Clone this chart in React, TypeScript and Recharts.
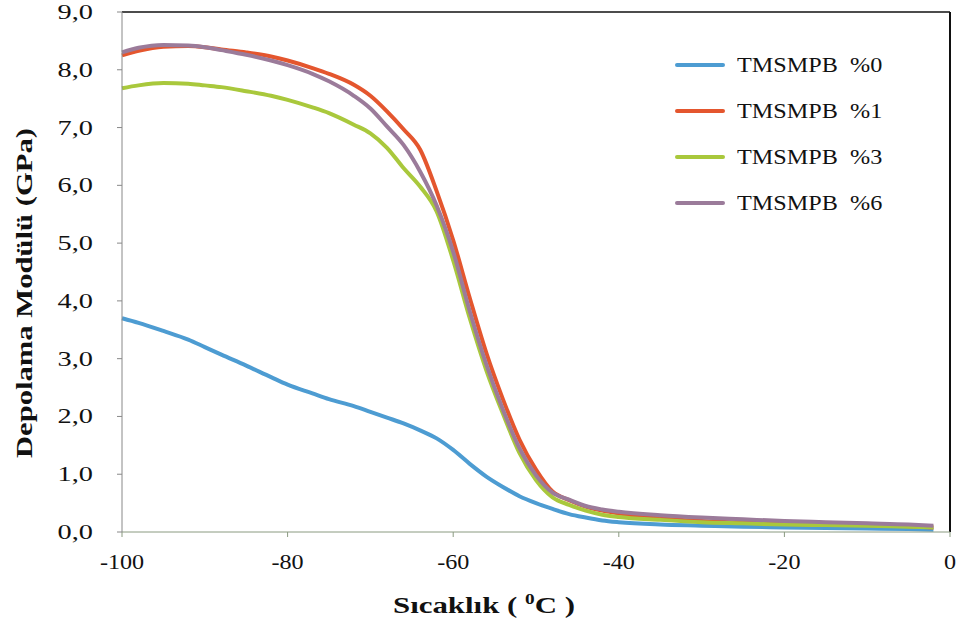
import { LineChart, Line, XAxis, YAxis, ReferenceLine } from "recharts";

// Sıcaklık (°C)
const sicaklik = [-100, -98, -95, -92, -90, -88, -85, -82, -80, -77, -75, -72, -70, -68, -66, -64, -62, -60, -58, -56, -54, -52, -50, -48, -46, -44, -42, -40, -35, -30, -25, -20, -15, -10, -5, -2];

// Depolama modülü (GPa)
const tmsmpb0 = [3.70, 3.62, 3.48, 3.33, 3.20, 3.07, 2.88, 2.68, 2.55, 2.40, 2.30, 2.18, 2.08, 1.98, 1.88, 1.76, 1.62, 1.42, 1.18, 0.96, 0.78, 0.62, 0.50, 0.40, 0.31, 0.25, 0.20, 0.17, 0.13, 0.11, 0.09, 0.08, 0.07, 0.06, 0.05, 0.04];
const tmsmpb1 = [8.25, 8.33, 8.40, 8.41, 8.39, 8.35, 8.30, 8.23, 8.16, 8.03, 7.93, 7.74, 7.55, 7.28, 6.97, 6.62, 5.90, 5.05, 4.05, 3.10, 2.30, 1.60, 1.08, 0.70, 0.55, 0.44, 0.37, 0.32, 0.24, 0.19, 0.16, 0.14, 0.13, 0.12, 0.10, 0.08];
const tmsmpb3 = [7.68, 7.73, 7.77, 7.76, 7.73, 7.70, 7.63, 7.55, 7.48, 7.35, 7.25, 7.05, 6.90, 6.65, 6.30, 5.98, 5.55, 4.70, 3.70, 2.80, 2.05, 1.37, 0.90, 0.60, 0.47, 0.37, 0.30, 0.26, 0.21, 0.17, 0.15, 0.13, 0.12, 0.11, 0.09, 0.08];
const tmsmpb6 = [8.30, 8.38, 8.43, 8.42, 8.39, 8.34, 8.26, 8.16, 8.08, 7.93, 7.80, 7.55, 7.33, 7.02, 6.70, 6.24, 5.65, 4.85, 3.82, 2.90, 2.12, 1.45, 0.98, 0.68, 0.56, 0.45, 0.39, 0.35, 0.29, 0.25, 0.22, 0.19, 0.17, 0.15, 0.13, 0.11];

const xTicks = [-100, -80, -60, -40, -20, 0];
const yTicks = [0, 1, 2, 3, 4, 5, 6, 7, 8, 9];

const seriler = [
    { key: "s0", name: "TMSMPB  %0", color: "#4d9cd2" },
    { key: "s1", name: "TMSMPB  %1", color: "#e4562e" },
    { key: "s3", name: "TMSMPB  %3", color: "#a9c83c" },
    { key: "s6", name: "TMSMPB  %6", color: "#9b7b9a" },
];

const data = sicaklik.map((t, i) => ({
    t,
    s0: tmsmpb0[i],
    s1: tmsmpb1[i],
    s3: tmsmpb3[i],
    s6: tmsmpb6[i],
}));

const FONT = "'Liberation Serif', 'Times New Roman', serif";

// taranmış görüntüdeki yazılar yatayda biraz geniş
function XTick({ x, y, payload }: any) {
    return (
        <g transform={`translate(${x},${y + 30}) scale(1.15,1)`}>
            <text x={0} y={0} textAnchor="middle" fontFamily={FONT} fontSize={21} fill="#111">
                {payload.value}
            </text>
        </g>
    );
}

function YTick({ x, y, payload }: any) {
    return (
        <g transform={`translate(${x - 22},${y + 7}) scale(1.35,1)`}>
            <text x={0} y={0} textAnchor="end" fontFamily={FONT} fontSize={21} fill="#111">
                {payload.value.toFixed(1).replace(".", ",")}
            </text>
        </g>
    );
}

// lejant grafiğin üstünde ayrı bir katman olarak
function Lejant() {
    return (
        <div style={{ position: "absolute", left: 675, top: 42, fontFamily: FONT }}>
            {seriler.map(s => (
                <div key={s.key} style={{ display: "flex", alignItems: "center", height: 46 }}>
                    <div style={{ width: 50, height: 4, borderRadius: 2, background: s.color, marginRight: 12 }} />
                    <span style={{ fontSize: 22, color: "#111", whiteSpace: "pre", display: "inline-block", transform: "scaleX(1.1)", transformOrigin: "left center" }}>
                        {s.name}
                    </span>
                </div>
            ))}
        </div>
    );
}

export default function App() {
    return (
        <div style={{ position: "absolute", left: 0, top: 0, width: 957, height: 623, background: "#fff" }}>
            <LineChart width={957} height={623} data={data} margin={{ top: 12, right: 7, bottom: 31, left: 0 }}>
                <XAxis
                    dataKey="t"
                    type="number"
                    domain={[-100, 0]}
                    ticks={xTicks}
                    tickSize={5}
                    height={60}
                    stroke="#8a9a80"
                    tick={<XTick />}
                />
                <YAxis
                    type="number"
                    domain={[0, 9]}
                    ticks={yTicks}
                    width={122}
                    tickSize={5}
                    stroke="#888"
                    tick={<YTick />}
                />
                <ReferenceLine y={9} stroke="#111" strokeWidth={1.5} />
                <ReferenceLine x={0} stroke="#111" strokeWidth={2} />
                {seriler.map(s => (
                    <Line
                        key={s.key}
                        type="monotone"
                        dataKey={s.key}
                        name={s.name}
                        stroke={s.color}
                        strokeWidth={4}
                        dot={false}
                        isAnimationActive={false}
                    />
                ))}
            </LineChart>
            <Lejant />
            <div style={{ position: "absolute", left: 0, top: 0, width: 957, height: 623, pointerEvents: "none" }}>
                <svg width={957} height={623}>
                    <text x={484} y={613} textAnchor="middle" textLength={182} lengthAdjust="spacingAndGlyphs" fontFamily={FONT} fontWeight="bold" fontSize={24} fill="#111">
                        Sıcaklık ( <tspan dy={-9} fontSize={15}>0</tspan><tspan dy={9}>C )</tspan>
                    </text>
                    <text x={32} y={293} textAnchor="middle" textLength={330} lengthAdjust="spacingAndGlyphs" transform="rotate(-90 32 293)" fontFamily={FONT} fontWeight="bold" fontSize={24} fill="#111">
                        Depolama Modülü (GPa)
                    </text>
                </svg>
            </div>
        </div>
    );
}
